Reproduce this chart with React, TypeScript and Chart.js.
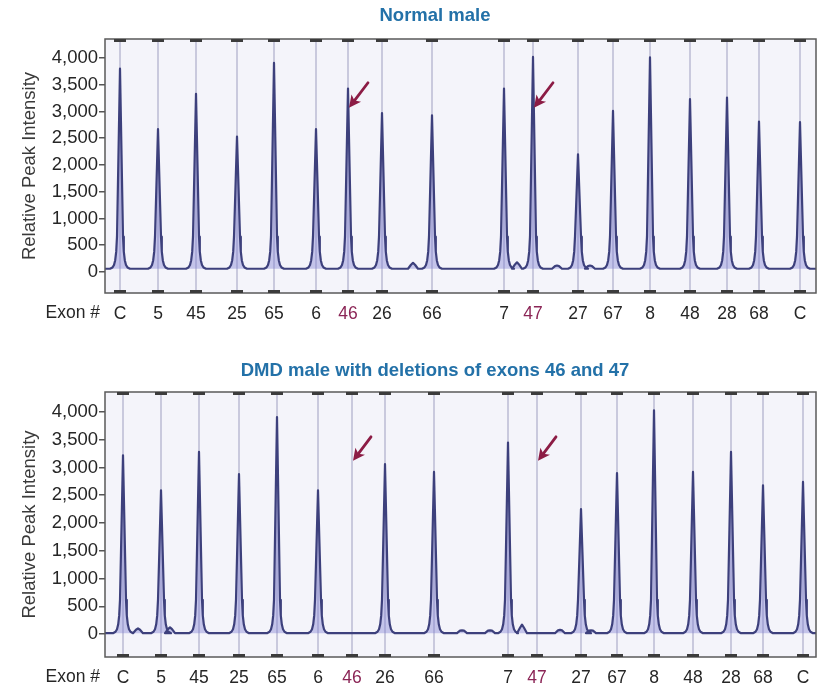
import React, { useEffect, useRef } from 'react';
import { Chart, registerables } from 'chart.js';

Chart.register(...registerables);

// ---------- data ----------
const EXONS = ['C', '5', '45', '25', '65', '6', '46', '26', '66', '7', '47', '27', '67', '8', '48', '28', '68', 'C'];
const HIGHLIGHT = ['46', '47'];
const Y_TICKS = [0, 500, 1000, 1500, 2000, 2500, 3000, 3500, 4000];

// Normal male
const NORMAL_POS = [15, 53, 91, 132, 169, 211, 243, 277, 327, 399, 428, 473, 508, 545, 585, 622, 654, 695];
const NORMAL_PEAKS = [3800, 2670, 3330, 2530, 3910, 2670, 3430, 2970, 2930, 3430, 4020, 2200, 3010, 4010, 3230, 3260, 2810, 2800];
const NORMAL_BUMP_POS = [308, 412, 452, 485];
const NORMAL_BUMPS = [170, 180, 120, 120];
const NORMAL_BASE = 60;
const NORMAL_ARROW_TIP = [3070, 3070];

// DMD male with deletions of exons 46 and 47
const DMD_POS = [18, 56, 94, 134, 172, 213, 247, 280, 329, 403, 432, 476, 512, 549, 588, 626, 658, 698];
const DMD_PEAKS = [3220, 2590, 3280, 2880, 3910, 2590, null, 3060, 2920, 3450, null, 2250, 2900, 4030, 2920, 3280, 2680, 2740];
const DMD_BUMP_POS = [33, 65, 357, 385, 417, 455, 486];
const DMD_BUMPS = [100, 120, 65, 65, 170, 75, 65];
const DMD_BASE = 15;
const DMD_ARROW_TIP = [3120, 3120];

// ---------- style ----------
const FONT = "'Liberation Sans', Arial, Helvetica, sans-serif";
const X_MAX = 711;
const TRACE_COLOR = '#3d407c';
const FILL_COLOR = 'rgba(125,125,210,0.4)';
const BG_COLOR = '#f4f4fa';
const VLINE_COLOR = '#c9c9dd';
const BORDER_COLOR = '#5a5a5a';
const TITLE_COLOR = '#2371a8';
const MAROON = '#8c1c45';
const LABEL_MAROON = '#8b2556';
const TEXT_COLOR = '#262626';
// peak profile: [dx, rise above base] (apex marked with null)
const PEAK_PROFILE: [number, number | null][] = [
  [-10, 0], [-7.5, 25], [-6, 70], [-4.8, 160], [-3.8, 320], [-3, 600], [0, null],
  [3, 600], [3.8, 320], [4.8, 160], [6, 70], [7.5, 25], [10, 0],
];

function buildTrace(pos: number[], peaks: (number | null)[], bumpPos: number[], bumps: number[], base: number) {
  const feats: { x: number; h: number; peak: boolean }[] = [];
  pos.forEach((p, i) => {
    const h = peaks[i];
    if (h != null) feats.push({ x: p, h, peak: true });
  });
  bumpPos.forEach((p, i) => feats.push({ x: p, h: bumps[i], peak: false }));
  feats.sort((a, b) => a.x - b.x);
  const pts: { x: number; y: number }[] = [{ x: 0, y: base }];
  feats.forEach((f) => {
    if (f.peak) {
      PEAK_PROFILE.forEach(([dx, r]) => pts.push({ x: f.x + dx, y: r == null ? f.h : base + r }));
    } else {
      pts.push({ x: f.x - 5, y: base }, { x: f.x - 2, y: (f.h + base) / 2 + 20 }, { x: f.x, y: f.h }, { x: f.x + 2, y: (f.h + base) / 2 + 20 }, { x: f.x + 5, y: base });
    }
  });
  pts.push({ x: X_MAX, y: base });
  return pts.filter((p) => p.x >= 0 && p.x <= X_MAX);
}

type Panel = {
  title: string;
  titleY: number;
  height: number;
  padTop: number;
  xAxisH: number;
  yMin: number;
  yMax: number;
  pos: number[];
  peaks: (number | null)[];
  bumpPos: number[];
  bumps: number[];
  base: number;
  arrowTip: number[];
  arrowDx: number;
  arrowDy: number;
};

const PANELS: Panel[] = [
  {
    title: 'Normal male', titleY: 15, height: 340, padTop: 39, xAxisH: 47, yMin: -393, yMax: 4355,
    pos: NORMAL_POS, peaks: NORMAL_PEAKS, bumpPos: NORMAL_BUMP_POS, bumps: NORMAL_BUMPS, base: NORMAL_BASE,
    arrowTip: NORMAL_ARROW_TIP, arrowDx: 19, arrowDy: -25,
  },
  {
    title: 'DMD male with deletions of exons 46 and 47', titleY: 30, height: 346, padTop: 52, xAxisH: 29, yMin: -414, yMax: 4360,
    pos: DMD_POS, peaks: DMD_PEAKS, bumpPos: DMD_BUMP_POS, bumps: DMD_BUMPS, base: DMD_BASE,
    arrowTip: DMD_ARROW_TIP, arrowDx: 18, arrowDy: -24,
  },
];

function makeDecor(p: Panel) {
  return {
    id: 'decor',
    beforeDatasetsDraw(chart: any) {
      const { ctx, chartArea: a } = chart;
      const xs = chart.scales.x;
      ctx.save();
      ctx.fillStyle = BG_COLOR;
      ctx.fillRect(a.left, a.top, a.right - a.left, a.bottom - a.top);
      ctx.strokeStyle = VLINE_COLOR;
      ctx.lineWidth = 2;
      p.pos.forEach((v) => {
        const x = xs.getPixelForValue(v);
        ctx.beginPath();
        ctx.moveTo(x, a.top);
        ctx.lineTo(x, a.bottom);
        ctx.stroke();
      });
      ctx.restore();
    },
    afterDatasetsDraw(chart: any) {
      const { ctx, chartArea: a } = chart;
      const xs = chart.scales.x;
      const ys = chart.scales.y;
      ctx.save();
      // border
      ctx.strokeStyle = BORDER_COLOR;
      ctx.lineWidth = 1.5;
      ctx.strokeRect(a.left, a.top, a.right - a.left, a.bottom - a.top);
      // tick marks along top & bottom borders
      ctx.strokeStyle = '#3c3c3c';
      ctx.lineWidth = 3;
      p.pos.forEach((v) => {
        const x = xs.getPixelForValue(v);
        ctx.beginPath();
        ctx.moveTo(x - 6, a.top + 1.5);
        ctx.lineTo(x + 6, a.top + 1.5);
        ctx.moveTo(x - 6, a.bottom - 1.5);
        ctx.lineTo(x + 6, a.bottom - 1.5);
        ctx.stroke();
      });
      // arrows
      ctx.strokeStyle = MAROON;
      ctx.fillStyle = MAROON;
      HIGHLIGHT.forEach((ex, k) => {
        const idx = EXONS.indexOf(ex);
        const tipX = xs.getPixelForValue(p.pos[idx]) + 1;
        const tipY = ys.getPixelForValue(p.arrowTip[k]);
        const tailX = tipX + p.arrowDx;
        const tailY = tipY + p.arrowDy;
        const ang = Math.atan2(tipY - tailY, tipX - tailX);
        const headLen = 12;
        const headW = 6;
        const bx = tipX - headLen * Math.cos(ang);
        const by = tipY - headLen * Math.sin(ang);
        ctx.lineWidth = 2.8;
        ctx.lineCap = 'round';
        ctx.beginPath();
        ctx.moveTo(tailX, tailY);
        ctx.lineTo(bx + 3 * Math.cos(ang), by + 3 * Math.sin(ang));
        ctx.stroke();
        ctx.beginPath();
        ctx.moveTo(tipX, tipY);
        ctx.lineTo(bx - headW * Math.sin(ang), by + headW * Math.cos(ang));
        ctx.lineTo(bx + 3 * Math.cos(ang), by + 3 * Math.sin(ang));
        ctx.lineTo(bx + headW * Math.sin(ang), by - headW * Math.cos(ang));
        ctx.closePath();
        ctx.fill();
      });
      ctx.restore();
    },
    afterDraw(chart: any) {
      const { ctx, chartArea: a } = chart;
      ctx.save();
      ctx.fillStyle = TITLE_COLOR;
      ctx.font = `bold 18.5px ${FONT}`;
      ctx.textAlign = 'center';
      ctx.textBaseline = 'middle';
      ctx.fillText(p.title, 435, p.titleY + 1);
      ctx.fillStyle = TEXT_COLOR;
      ctx.font = `17.5px ${FONT}`;
      ctx.textAlign = 'right';
      ctx.fillText('Exon #', 100, a.bottom + 20);
      ctx.restore();
    },
  };
}

function PanelChart({ p }: { p: Panel }) {
  const ref = useRef<HTMLCanvasElement | null>(null);
  useEffect(() => {
    if (!ref.current) return;
    const data = buildTrace(p.pos, p.peaks, p.bumpPos, p.bumps, p.base);
    const chart = new Chart(ref.current, {
      type: 'line',
      data: {
        datasets: [
          {
            data,
            borderColor: TRACE_COLOR,
            borderWidth: 2.2,
            borderJoinStyle: 'round',
            backgroundColor: FILL_COLOR,
            fill: { value: p.base },
            pointRadius: 0,
            tension: 0,
          } as any,
        ],
      },
      options: {
        animation: false,
        responsive: false,
        devicePixelRatio: 1,
        parsing: false as any,
        layout: { padding: { top: p.padTop, right: 1, left: 0, bottom: 0 } },
        plugins: { legend: { display: false }, tooltip: { enabled: false }, title: { display: false } },
        scales: {
          x: {
            type: 'linear',
            min: 0,
            max: X_MAX,
            grid: { display: false, drawTicks: false },
            border: { display: false },
            afterBuildTicks: (s: any) => {
              s.ticks = p.pos.map((v) => ({ value: v }));
            },
            afterFit: (s: any) => {
              s.height = p.xAxisH;
              s.paddingLeft = 0;
              s.paddingRight = 0;
            },
            ticks: {
              autoSkip: false,
              maxRotation: 0,
              padding: 11,
              font: { family: FONT, size: 17.5 },
              color: (c: any) => (HIGHLIGHT.includes(EXONS[c.index]) ? LABEL_MAROON : TEXT_COLOR),
              callback: (_v: any, i: number) => EXONS[i],
            },
          },
          y: {
            type: 'linear',
            min: p.yMin,
            max: p.yMax,
            afterBuildTicks: (s: any) => {
              s.ticks = Y_TICKS.map((v) => ({ value: v }));
            },
            afterFit: (s: any) => {
              s.width = 105;
              s.paddingTop = 0;
              s.paddingBottom = 0;
            },
            grid: { drawOnChartArea: false, drawTicks: true, tickLength: 6, color: '#555', lineWidth: 1.5 },
            border: { display: false },
            ticks: {
              padding: 1,
              font: { family: FONT, size: 18.5 },
              color: TEXT_COLOR,
              callback: (v: any) => Number(v).toLocaleString('en-US'),
            },
            title: {
              display: true,
              text: 'Relative Peak Intensity',
              font: { family: FONT, size: 18.5 },
              color: '#3a3a3a',
              padding: { top: 19, bottom: 0 },
            },
          },
        },
      },
      plugins: [makeDecor(p)],
    });
    return () => chart.destroy();
  }, [p]);
  return <canvas ref={ref} width={817} height={p.height} style={{ display: 'block', width: 817, height: p.height }} />;
}

export default function App() {
  useEffect(() => {
    document.body.style.margin = '0';
    document.body.style.background = '#ffffff';
  }, []);
  return (
    <div style={{ width: 817, height: 686, background: '#fff' }}>
      {PANELS.map((p, i) => (
        <PanelChart key={i} p={p} />
      ))}
    </div>
  );
}
